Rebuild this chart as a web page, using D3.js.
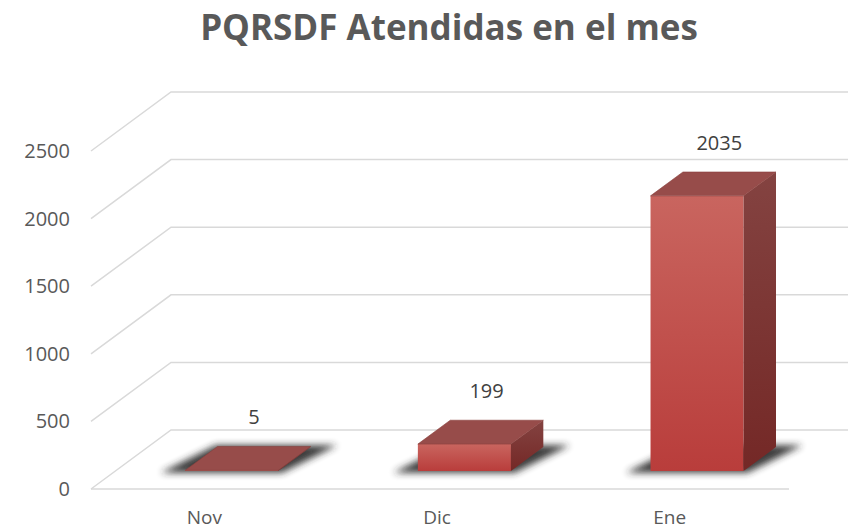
<!DOCTYPE html>
<html>
<head>
<meta charset="utf-8">
<script src="https://cdn.jsdelivr.net/npm/d3@7"></script>
<style>
  body { margin: 0; background: #fff; }
  svg { display: block; font-family: "Open Sans", sans-serif; }
</style>
</head>
<body>
<div id="wrapper"></div>
<script>
const categories = ["Nov", "Dic", "Ene"];
const values = [5, 199, 2035];
const yTicks = [0, 500, 1000, 1500, 2000, 2500];
const title = "PQRSDF Atendidas en el mes";

const dimension = { width: 848, height: 530 };
// floor front edge and the depth offset of the back wall
const front = { left: 91, right: 789, bottom: 489, top: 151 };
const depth = { dx: 80, dy: -59 };
const barDepth = [0.305, 0.71];

const svg = d3.select("#wrapper").append("svg")
    .attr("width", dimension.width)
    .attr("height", dimension.height);

const defs = svg.append("defs");
const grad = defs.append("linearGradient")
    .attr("id", "frontGrad").attr("x1", 0).attr("y1", 0).attr("x2", 0).attr("y2", 1);
grad.append("stop").attr("offset", "0%").attr("stop-color", "#c9655f");
grad.append("stop").attr("offset", "100%").attr("stop-color", "#b93d3b");
const sideGrad = defs.append("linearGradient")
    .attr("id", "sideGrad").attr("x1", 0).attr("y1", 0).attr("x2", 0).attr("y2", 1);
sideGrad.append("stop").attr("offset", "0%").attr("stop-color", "#844341");
sideGrad.append("stop").attr("offset", "100%").attr("stop-color", "#742826");
defs.append("filter").attr("id", "blur")
    .attr("x", "-50%").attr("y", "-50%").attr("width", "200%").attr("height", "200%")
    .append("feGaussianBlur").attr("stdDeviation", 3.5);
defs.append("clipPath").attr("id", "clip")
    .append("rect").attr("width", dimension.width).attr("height", dimension.height);

const yScaler = d3.scaleLinear()
    .domain([0, 2500])
    .range([front.bottom, front.top]);

const xScaler = d3.scaleBand()
    .domain(categories)
    .range([front.left, front.right])
    .paddingInner(0.6)
    .paddingOuter(0.3);

// 3D projection: x on front plane, value, depth fraction
const proj = (x, v, d) => [x + d * depth.dx, yScaler(v) + d * depth.dy];
const pts = arr => arr.map(p => p.join(",")).join(" ");

// title
svg.append("text")
    .attr("x", 449)
    .attr("y", 40)
    .attr("text-anchor", "middle")
    .style("font-size", "35px")
    .style("font-weight", "bold")
    .style("fill", "#595959")
    .text(title);

// gridlines: left wall diagonal + back wall horizontal
const grid = svg.append("g").attr("clip-path", "url(#clip)");
yTicks.forEach(t => {
    const a = proj(front.left, t, 0), b = proj(front.left, t, 1);
    grid.append("polyline")
        .attr("points", pts([a, b, [dimension.width + 10, b[1]]]))
        .attr("fill", "none")
        .attr("stroke", "#d9d9d9")
        .attr("stroke-width", 1.5);
});
grid.append("line")
    .attr("x1", front.left).attr("x2", front.right)
    .attr("y1", yScaler(0)).attr("y2", yScaler(0))
    .attr("stroke", "#d9d9d9").attr("stroke-width", 1.5);

// y axis labels
svg.append("g").selectAll("text")
    .data(yTicks)
    .join("text")
    .attr("x", 70)
    .attr("y", d => yScaler(d))
    .attr("dy", "0.35em")
    .attr("text-anchor", "end")
    .style("font-size", "20px")
    .style("fill", "#595959")
    .text(d => d);

// category labels
svg.append("g").selectAll("text")
    .data(categories)
    .join("text")
    .attr("x", d => xScaler(d) + xScaler.bandwidth() / 2 - 3)
    .attr("y", 524)
    .attr("text-anchor", "middle")
    .style("font-size", "19px")
    .style("fill", "#595959")
    .text(d => d);

const bars = categories.map((c, i) => ({ c, v: values[i], x0: xScaler(c), x1: xScaler(c) + xScaler.bandwidth() }));

// shadows
svg.append("g").selectAll("polygon")
    .data(bars)
    .join("polygon")
    .attr("points", d => pts([
        proj(d.x0 - 22, 0, barDepth[0] - 0.03),
        proj(d.x1 + 6, 0, barDepth[0] - 0.03),
        proj(d.x1 + 24, 0, barDepth[1] + 0.03),
        proj(d.x0 - 4, 0, barDepth[1] + 0.03)
    ]))
    .attr("fill", "#262626")
    .attr("opacity", 0.9)
    .attr("filter", "url(#blur)");

const barG = svg.append("g").selectAll("g")
    .data(bars)
    .join("g");

barG.append("polygon")
    .attr("points", d => pts([
        proj(d.x0, 0, barDepth[0]), proj(d.x1, 0, barDepth[0]),
        proj(d.x1, d.v, barDepth[0]), proj(d.x0, d.v, barDepth[0])
    ]))
    .attr("fill", "url(#frontGrad)");

barG.append("polygon")
    .attr("points", d => pts([
        proj(d.x1, 0, barDepth[0]), proj(d.x1, 0, barDepth[1]),
        proj(d.x1, d.v, barDepth[1]), proj(d.x1, d.v, barDepth[0])
    ]))
    .attr("fill", "url(#sideGrad)");

barG.append("polygon")
    .attr("points", d => pts([
        proj(d.x0, d.v, barDepth[0]), proj(d.x1, d.v, barDepth[0]),
        proj(d.x1, d.v, barDepth[1]), proj(d.x0, d.v, barDepth[1])
    ]))
    .attr("fill", "#974c4a")
    .attr("stroke", "#8a3f3d")
    .attr("stroke-width", 0.6);

// value labels
barG.append("text")
    .attr("x", d => (d.x0 + d.x1) / 2 + (barDepth[0] + barDepth[1]) / 2 * depth.dx + 6)
    .attr("y", d => proj(0, d.v, barDepth[1])[1] - 22)
    .attr("text-anchor", "middle")
    .style("font-size", "20px")
    .style("fill", "#404040")
    .text(d => d.v);
</script>
</body>
</html>
